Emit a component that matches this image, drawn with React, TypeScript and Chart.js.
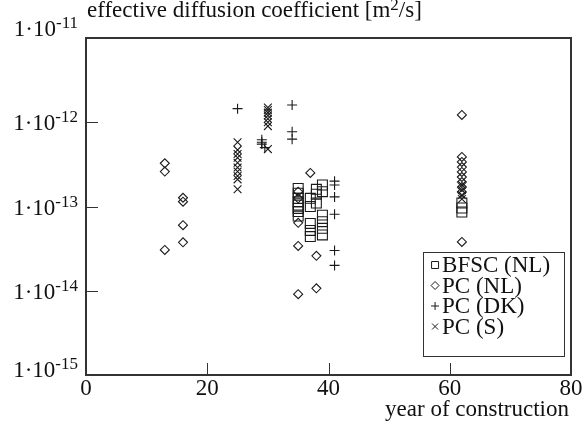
import React, { useEffect, useRef } from "react";
import { Chart, registerables } from "chart.js";

Chart.register(...registerables);

// ---------- data ----------
const bfscYears = [35, 35, 35, 35, 35, 35, 35, 35, 37, 37, 37, 37, 37, 38, 38, 38, 39, 39, 39, 39, 39, 39, 62, 62, 62];
const bfscValues = [1.64e-13, 1.44e-13, 1.25e-13, 1.14e-13, 1.04e-13, 9.5e-14, 8.7e-14, 7.7e-14, 1.25e-13, 1.0e-13, 6.3e-14, 5.2e-14, 4.4e-14, 1.6e-13, 1.4e-13, 1.1e-13, 1.8e-13, 1.5e-13, 7.9e-14, 6.6e-14, 5.5e-14, 4.6e-14, 1.1e-13, 9.6e-14, 8.6e-14];

const pcNlYears = [13, 13, 13, 16, 16, 16, 16, 35, 35, 35, 35, 35, 37, 38, 38, 62, 62, 62, 62, 62, 62, 62, 62, 62, 62];
const pcNlValues = [3.26e-13, 2.6e-13, 3.05e-14, 1.27e-13, 1.14e-13, 6.0e-14, 3.76e-14, 1.5e-13, 1.25e-13, 6.4e-14, 3.4e-14, 9.1e-15, 2.5e-13, 2.6e-14, 1.07e-14, 1.22e-12, 3.87e-13, 3.38e-13, 2.94e-13, 2.57e-13, 2.24e-13, 1.95e-13, 1.7e-13, 1.49e-13, 3.8e-14];

const pcDkYears = [25, 29, 29, 29, 29.5, 34, 34, 34, 41, 41, 41, 41, 41, 41];
const pcDkValues = [1.45e-12, 6.2e-13, 5.8e-13, 5.5e-13, 5.0e-13, 1.6e-12, 7.7e-13, 6.3e-13, 2.0e-13, 1.8e-13, 1.3e-13, 8.1e-14, 3.0e-14, 2.0e-14];

const pcSYears = [25, 25, 25, 25, 25, 25, 25, 25, 25, 25, 30, 30, 30, 30, 30, 30, 30, 30, 62, 62, 62, 62];
const pcSValues = [5.8e-13, 4.7e-13, 4.2e-13, 3.8e-13, 3.3e-13, 2.9e-13, 2.6e-13, 2.3e-13, 2.1e-13, 1.6e-13, 1.5e-12, 1.4e-12, 1.3e-12, 1.2e-12, 1.1e-12, 1.0e-12, 9.0e-13, 4.8e-13, 1.8e-13, 1.57e-13, 1.37e-13, 1.23e-13];

const xTickValues = [0, 20, 40, 60, 80];
const yTickExponents = [-11, -12, -13, -14, -15];
const legendLabels = ["BFSC (NL)", "PC (NL)", "PC (DK)", "PC (S)"];
const titleParts = ["effective diffusion coefficient [m", "2", "/s]"];
const xAxisTitle = "year of construction";

// ---------- style ----------
const INK = "#1a1a1a";
const SERIF = '"Liberation Serif", "Times New Roman", Times, serif';

const toPoints = (xs: number[], ys: number[]) => xs.map((x, i) => ({ x, y: ys[i] }));

function drawMarker(ctx: CanvasRenderingContext2D, style: string, x: number, y: number, r: number) {
  ctx.beginPath();
  if (style === "rect") {
    ctx.rect(x - r, y - r, 2 * r, 2 * r);
  } else if (style === "rectRot") {
    ctx.moveTo(x, y - r);
    ctx.lineTo(x + r, y);
    ctx.lineTo(x, y + r);
    ctx.lineTo(x - r, y);
    ctx.closePath();
  } else if (style === "cross") {
    ctx.moveTo(x - r, y);
    ctx.lineTo(x + r, y);
    ctx.moveTo(x, y - r);
    ctx.lineTo(x, y + r);
  } else {
    ctx.moveTo(x - r, y - r);
    ctx.lineTo(x + r, y + r);
    ctx.moveTo(x - r, y + r);
    ctx.lineTo(x + r, y - r);
  }
  ctx.stroke();
}

const decorPlugin = {
  id: "decor",
  afterDraw(chart: any) {
    const { ctx, chartArea } = chart;
    const xs = chart.scales.x;
    const ys = chart.scales.y;
    const { left, right, top, bottom } = chartArea;
    ctx.save();

    // frame
    ctx.strokeStyle = "#333";
    ctx.lineWidth = 2;
    ctx.strokeRect(left, top, right - left, bottom - top);

    // inward ticks
    ctx.lineWidth = 1;
    ctx.strokeStyle = "#333";
    ctx.beginPath();
    yTickExponents.forEach((e) => {
      const py = Math.round(ys.getPixelForValue(Math.pow(10, e))) + 0.5;
      ctx.moveTo(left, py);
      ctx.lineTo(left + 12, py);
    });
    xTickValues.forEach((v) => {
      const px = Math.round(xs.getPixelForValue(v)) + 0.5;
      ctx.moveTo(px, bottom);
      ctx.lineTo(px, bottom - 12);
    });
    ctx.stroke();

    ctx.fillStyle = "#111";
    // y labels 1·10^e
    const mainFont = `23px ${SERIF}`;
    const supFont = `17px ${SERIF}`;
    yTickExponents.forEach((e, i) => {
      const py = ys.getPixelForValue(Math.pow(10, e));
      const shift = i === 0 ? -2 : i === yTickExponents.length - 1 ? 1.5 : 8;
      const base = py + shift;
      ctx.font = supFont;
      const sup = "-" + String(-e);
      const w2 = ctx.measureText(sup).width;
      ctx.font = mainFont;
      const main = "1·10";
      const w1 = ctx.measureText(main).width;
      const rx = left - 8;
      ctx.textAlign = "left";
      ctx.textBaseline = "alphabetic";
      ctx.fillText(main, rx - w2 - w1, base);
      ctx.font = supFont;
      ctx.fillText(sup, rx - w2, base - 8);
    });

    // x labels
    ctx.font = mainFont;
    ctx.textAlign = "center";
    xTickValues.forEach((v) => {
      const px = xs.getPixelForValue(v);
      ctx.fillText(String(v), px, bottom + 20);
    });

    // x axis title
    ctx.textAlign = "right";
    ctx.fillText(xAxisTitle, right - 2, bottom + 41);

    // top title
    ctx.textAlign = "left";
    ctx.font = mainFont;
    let tx = left + 1;
    const tb = top - 21;
    ctx.fillText(titleParts[0], tx, tb);
    tx += ctx.measureText(titleParts[0]).width;
    ctx.font = supFont;
    ctx.fillText(titleParts[1], tx, tb - 7);
    tx += ctx.measureText(titleParts[1]).width;
    ctx.font = mainFont;
    ctx.fillText(titleParts[2], tx, tb);

    // legend box
    const lx = xs.getPixelForValue(55.6);
    const lw = 141;
    const ly = 252;
    const lh = 104;
    ctx.fillStyle = "#fff";
    ctx.fillRect(lx, ly, lw, lh);
    ctx.strokeStyle = "#333";
    ctx.lineWidth = 1;
    ctx.strokeRect(Math.round(lx) + 0.5, ly + 0.5, lw, lh);
    const styles = ["rect", "rectRot", "cross", "crossRot"];
    const sizes = [3.5, 4, 4, 3];
    ctx.fillStyle = "#111";
    ctx.font = mainFont;
    ctx.textAlign = "left";
    legendLabels.forEach((lab, i) => {
      const base = ly + 20 + i * 20.5;
      ctx.strokeStyle = INK;
      ctx.lineWidth = 1;
      drawMarker(ctx, styles[i], lx + 12, base - 7, sizes[i]);
      ctx.fillText(lab, lx + 19, base);
    });

    ctx.restore();
  },
};

export default function App() {
  const canvasRef = useRef<HTMLCanvasElement | null>(null);

  useEffect(() => {
    if (!canvasRef.current) return;
    const common = {
      showLine: false,
      borderColor: INK,
      backgroundColor: "rgba(0,0,0,0)",
      pointBorderWidth: 1.1,
      pointHoverRadius: 0,
    };
    const chart = new Chart(canvasRef.current, {
      type: "scatter",
      data: {
        datasets: [
          { ...common, label: legendLabels[0], data: toPoints(bfscYears, bfscValues), pointStyle: "rect", pointRadius: 7 },
          { ...common, label: legendLabels[1], data: toPoints(pcNlYears, pcNlValues), pointStyle: "rectRot", pointRadius: 4.5 },
          { ...common, label: legendLabels[2], data: toPoints(pcDkYears, pcDkValues), pointStyle: "cross", pointRadius: 5 },
          { ...common, label: legendLabels[3], data: toPoints(pcSYears, pcSValues), pointStyle: "crossRot", pointRadius: 5.5 },
        ],
      },
      options: {
        animation: false,
        responsive: false,
        layout: { padding: { left: 86, right: 12, top: 38, bottom: 51 } },
        plugins: { legend: { display: false }, tooltip: { enabled: false } },
        scales: {
          x: { type: "linear", min: 0, max: 80, display: false },
          y: { type: "logarithmic", min: 1e-15, max: 1e-11, display: false },
        },
      },
      plugins: [decorPlugin],
    });
    return () => chart.destroy();
  }, []);

  return (
    <div style={{ position: "absolute", left: 0, top: 0, width: 583, height: 426, background: "#fff" }}>
      <canvas ref={canvasRef} width={583} height={426} style={{ display: "block" }} />
    </div>
  );
}
